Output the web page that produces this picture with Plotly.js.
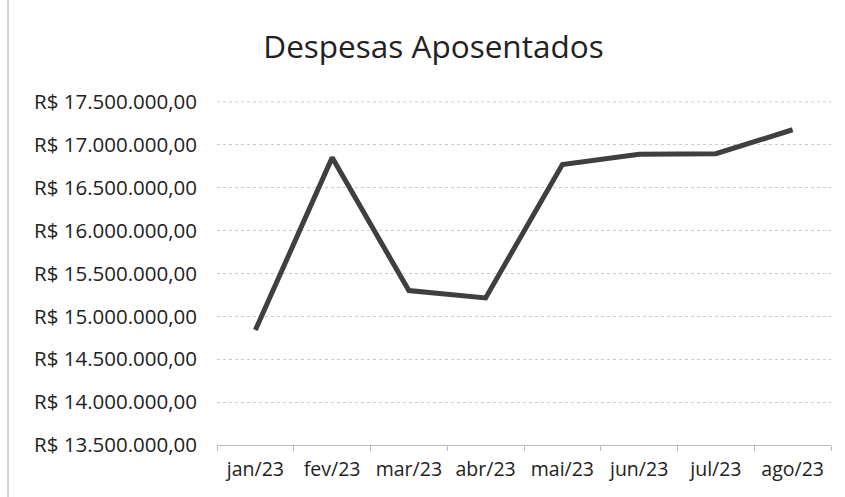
<!DOCTYPE html>
<html>
<head>
<meta charset="utf-8">
<script src="https://cdn.plot.ly/plotly-3.0.1.min.js"></script>
<style>html,body{margin:0;padding:0;background:#fff;}#chart{width:845px;height:497px;}</style>
</head>
<body>
<div id="chart"></div>
<script>
const months = ["jan/23","fev/23","mar/23","abr/23","mai/23","jun/23","jul/23","ago/23"];
const despesas = [14840000, 16850000, 15300000, 15215000, 16770000, 16890000, 16895000, 17175000];
const chartTitle = "Despesas Aposentados";
const yTop = 17500000;

const trace = {
  x: months,
  y: despesas,
  type: "scatter",
  mode: "lines",
  line: {color: "#3f3f3f", width: 5},
  hoverinfo: "skip"
};

const layout = {
  width: 845,
  height: 497,
  margin: {l: 217, r: 14, t: 101, b: 52},
  paper_bgcolor: "#ffffff",
  plot_bgcolor: "#ffffff",
  separators: ",.",
  showlegend: false,
  font: {family: "Open Sans, Noto Sans, sans-serif", color: "#333333"},
  title: {
    text: chartTitle,
    font: {size: 31.5, color: "#222222", family: "Open Sans, Noto Sans, sans-serif"},
    x: 0.513, xanchor: "center",
    y: 0.905, yanchor: "middle"
  },
  xaxis: {
    type: "category",
    range: [-0.5, 7.5],
    tickson: "boundaries",
    ticks: "outside",
    ticklen: 5,
    tickcolor: "#bbbbbb",
    showline: true,
    linecolor: "#bbbbbb",
    linewidth: 1,
    showgrid: false,
    tickfont: {size: 19.5, color: "#222222"},
    ticklabelstandoff: 7,
    fixedrange: true
  },
  yaxis: {
    range: [13500000, 17510000],
    tickmode: "linear",
    tick0: 13500000,
    dtick: 500000,
    tickprefix: "R$ ",
    tickformat: ",.2f",
    showgrid: true,
    gridcolor: "#cccccc",
    gridwidth: 1,
    griddash: "dot",
    zeroline: false,
    showline: false,
    ticks: "",
    ticklabelstandoff: 19,
    tickfont: {size: 20.5, color: "#222222"},
    fixedrange: true
  },
  shapes: [{
    type: "line", xref: "paper", yref: "paper",
    x0: -209/614, x1: -209/614, y0: -52/344, y1: 1 + 101/344,
    line: {color: "#aaaaaa", width: 1}
  }, {
    type: "line", xref: "paper", yref: "y", layer: "below",
    x0: 0, x1: 1, y0: yTop, y1: yTop,
    line: {color: "#cccccc", width: 1, dash: "dot"}
  }]
};

Plotly.newPlot("chart", [trace], layout, {displayModeBar: false, staticPlot: true});
</script>
</body>
</html>
